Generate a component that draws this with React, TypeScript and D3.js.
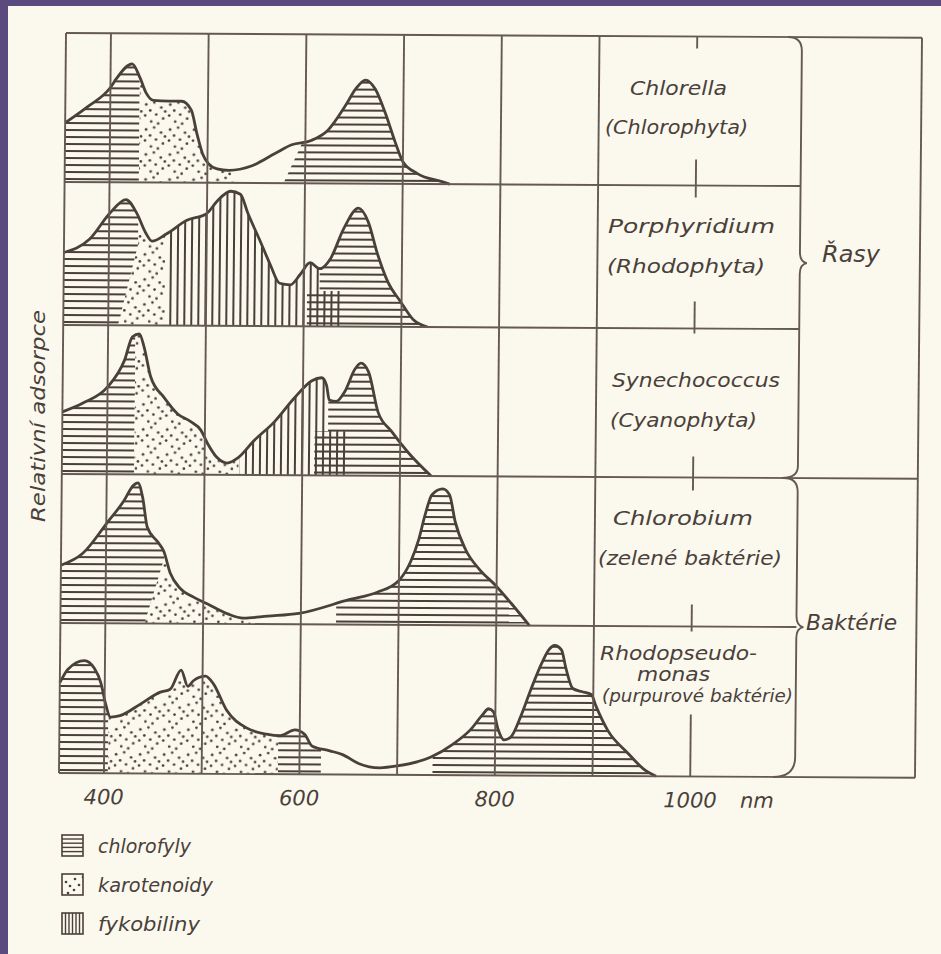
import * as d3 from "d3"
import React from "react"

const W = 941
const H = 954

type Pt = [number, number]
type Region = { kind: "chl" | "car" | "phy"; poly: Pt[] }

// absorption curves: [wavelength nm, relative absorption 0..1 of the row]
const chlorellaCurve: Pt[] = [
  [354, 0.4], [377, 0.51], [400, 0.64], [406, 0.7], [422, 0.8], [430, 0.71], [437, 0.6],
  [444, 0.555], [460, 0.55], [473, 0.55], [483, 0.49], [489, 0.33], [495, 0.195], [501, 0.13],
  [510, 0.095], [522, 0.085], [545, 0.115], [569, 0.2], [586, 0.26], [606, 0.29], [623, 0.36],
  [641, 0.53], [651, 0.64], [661, 0.7], [671, 0.64], [682, 0.47], [692, 0.28], [700, 0.15],
  [715, 0.07], [741, 0.015], [748, 0],
]
const porphyridiumCurve: Pt[] = [
  [354, 0.49], [380, 0.58], [401, 0.76], [417, 0.85], [428, 0.76], [438, 0.62], [444, 0.57],
  [459, 0.62], [479, 0.71], [500, 0.76], [510, 0.84], [524, 0.91], [534, 0.89], [542, 0.76],
  [555, 0.57], [565, 0.42], [575, 0.29], [586, 0.28], [596, 0.35], [606, 0.43], [616, 0.39],
  [627, 0.46], [640, 0.66], [655, 0.8], [665, 0.71], [675, 0.49], [686, 0.3], [699, 0.17],
  [712, 0.05], [727, 0],
]
const synechococcusCurve: Pt[] = [
  [354, 0.42], [375, 0.48], [400, 0.59], [417, 0.77], [425, 0.93], [432, 0.95], [437, 0.86],
  [444, 0.66], [458, 0.52], [472, 0.41], [485, 0.36], [496, 0.3], [503, 0.21], [513, 0.115],
  [523, 0.08], [534, 0.115], [550, 0.23], [571, 0.36], [591, 0.52], [609, 0.64], [619, 0.66],
  [624, 0.61], [627, 0.51], [634, 0.5], [643, 0.57], [653, 0.72], [659, 0.76], [667, 0.7],
  [677, 0.43], [691, 0.3], [708, 0.16], [732, 0],
]
const chlorobiumCurve: Pt[] = [
  [354, 0.39], [376, 0.47], [401, 0.68], [418, 0.83], [427, 0.93], [432, 0.95], [437, 0.85],
  [442, 0.65], [453, 0.55], [459, 0.49], [466, 0.34], [476, 0.24], [490, 0.18], [504, 0.135],
  [525, 0.068], [541, 0.04], [566, 0.054], [598, 0.074], [650, 0.17], [678, 0.22], [700, 0.3],
  [712, 0.43], [720, 0.58], [726, 0.74], [733, 0.88], [744, 0.92], [751, 0.88], [757, 0.7],
  [768, 0.51], [782, 0.38], [799, 0.27], [817, 0.135], [834, 0],
]
const rhodopseudomonasCurve: Pt[] = [
  [354, 0.61], [362, 0.7], [379, 0.76], [389, 0.71], [396, 0.61], [401, 0.47], [406, 0.38],
  [416, 0.39], [437, 0.47], [457, 0.55], [467, 0.57], [478, 0.7], [485, 0.59], [491, 0.63],
  [503, 0.66], [511, 0.61], [525, 0.43], [546, 0.31], [566, 0.27], [580, 0.26], [595, 0.3],
  [605, 0.27], [613, 0.19], [631, 0.16], [644, 0.135], [661, 0.074], [682, 0.047], [700, 0.06],
  [734, 0.12], [757, 0.21], [775, 0.31], [787, 0.41], [793, 0.45], [798, 0.43], [803, 0.31],
  [809, 0.24], [816, 0.26], [826, 0.4], [836, 0.58], [847, 0.76], [854, 0.85], [860, 0.88],
  [867, 0.85], [872, 0.72], [879, 0.59], [888, 0.57], [898, 0.55], [903, 0.47], [915, 0.31],
  [936, 0.155], [952, 0.05], [965, 0],
]

// pigment zones under each curve (chl = chlorofyly, car = karotenoidy, phy = fykobiliny)
const chlorellaRegions: Region[] = [
  { kind: "chl", poly: [[354, 0], [354, 1], [430, 1], [430, 0]] },
  { kind: "car", poly: [[430, 0], [430, 1], [530, 1], [530, 0]] },
  { kind: "chl", poly: [[578, 0], [600, 0.32], [600, 1], [800, 1], [800, 0]] },
]
const porphyridiumRegions: Region[] = [
  { kind: "chl", poly: [[354, 0], [354, 1], [430, 1], [430, 0.55], [410, 0]] },
  { kind: "car", poly: [[410, 0], [430, 0.55], [430, 1], [458, 1], [458, 0]] },
  { kind: "phy", poly: [[458, 0], [458, 1], [616, 1], [616, 0.24], [638, 0.24], [638, 0]] },
  { kind: "chl", poly: [[603, 0], [603, 0.24], [616, 0.24], [616, 1], [800, 1], [800, 0]] },
]
const synechococcusRegions: Region[] = [
  { kind: "chl", poly: [[354, 0], [354, 1], [428, 1], [428, 0]] },
  { kind: "car", poly: [[428, 0], [428, 1], [535, 1], [535, 0]] },
  { kind: "phy", poly: [[536, 0], [536, 1], [626, 1], [626, 0.3], [647, 0.3], [647, 0]] },
  { kind: "chl", poly: [[612, 0], [612, 0.3], [626, 0.3], [626, 1], [800, 1], [800, 0]] },
]
const chlorobiumRegions: Region[] = [
  { kind: "chl", poly: [[354, 0], [354, 1], [460, 1], [460, 0.45], [440, 0]] },
  { kind: "car", poly: [[440, 0], [460, 0.45], [460, 1], [550, 1], [550, 0]] },
  { kind: "chl", poly: [[636, 0], [636, 1], [900, 1], [900, 0]] },
]
const rhodopseudomonasRegions: Region[] = [
  { kind: "chl", poly: [[354, 0], [354, 1], [404, 1], [404, 0]] },
  { kind: "car", poly: [[404, 0], [404, 1], [578, 1], [578, 0]] },
  { kind: "chl", poly: [[578, 0], [578, 1], [622, 1], [622, 0]] },
  { kind: "chl", poly: [[736, 0], [736, 1], [1000, 1], [1000, 0]] },
]

const speciesNames = [
  ["Chlorella", "(Chlorophyta)"],
  ["Porphyridium", "(Rhodophyta)"],
  ["Synechococcus", "(Cyanophyta)"],
  ["Chlorobium", "(zelené baktérie)"],
  ["Rhodopseudo-", "monas", "(purpurové baktérie)"],
]
const groupNames = ["Řasy", "Baktérie"]
const gridNm = [400, 500, 600, 700, 800, 900]
const tickNm = [400, 600, 800, 1000]
const legendNames = ["chlorofyly", "karotenoidy", "fykobiliny"]

const curves = [chlorellaCurve, porphyridiumCurve, synechococcusCurve, chlorobiumCurve, rhodopseudomonasCurve]
const regions = [chlorellaRegions, porphyridiumRegions, synechococcusRegions, chlorobiumRegions, rhodopseudomonasRegions]

// layout
const rowLines = [33, 182, 325, 474, 623, 773]
const ROW_H = 148
const LEFT = 66
const RIGHT = 922
const BRACE_X = 802
const INK = "#4a403a"
const LINE = "#645a53"
const FONT = "'DejaVu Sans', sans-serif"
const stub1000 = [[33, 45], [156, 194], [298, 330], [453, 487], [601, 628], [711, 773]]
// species label layout: [x, baseline, width, size]
const labelPos = [
  [[630, 95, 97, 20], [605, 134, 143, 20]],
  [[608, 233, 167, 20], [607, 273, 158, 20]],
  [[612, 387, 168, 20], [610, 427, 147, 20]],
  [[613, 525, 140, 20], [598, 565, 184, 20]],
  [[600, 660, 157, 19], [637, 681, 73, 19], [602, 702, 191, 17]],
]
const skew = `translate(${LEFT},33) matrix(1,0.0055,-0.0095,1,0,0) translate(${-LEFT},-33)`

const dotSpots = [
  [3, 4], [11, 2], [18, 7], [7, 10], [2, 15], [13, 14], [20, 18], [8, 21], [15, 23], [22, 11],
]

const App = () => {
  const x = d3.scaleLinear().domain([354, 1230]).range([LEFT, RIGHT])
  const yFor = (i: number) =>
    d3.scaleLinear().domain([0, 1]).range([rowLines[i + 1], rowLines[i + 1] - ROW_H])

  const rows = curves.map((curve, i) => {
    const y = yFor(i)
    const area = d3
      .area<Pt>()
      .x((d) => x(d[0]))
      .y0(y(0))
      .y1((d) => y(d[1]))
      .curve(d3.curveMonotoneX)
    const line = d3
      .line<Pt>()
      .x((d) => x(d[0]))
      .y((d) => y(d[1]))
      .curve(d3.curveMonotoneX)
    const poly = d3
      .line<Pt>()
      .x((d) => x(d[0]))
      .y((d) => y(d[1]))
    const top = rowLines[i]
    const base = rowLines[i + 1]
    const hLines = d3.range(base - 3, top, -7)
    return (
      <g key={i}>
        <clipPath id={`area${i}`}>
          <path d={area(curve) || ""} />
        </clipPath>
        {regions[i].map((r, j) => {
          const [n0, n1] = d3.extent(r.poly, (d) => d[0]) as [number, number]
          return (
            <g key={j} clipPath={`url(#area${i})`}>
              <clipPath id={`reg${i}_${j}`}>
                <path d={(poly(r.poly) || "") + "Z"} />
              </clipPath>
              <g clipPath={`url(#reg${i}_${j})`}>
                {r.kind === "chl" &&
                  hLines.map((yy) => (
                    <line key={yy} x1={x(n0)} x2={x(n1)} y1={yy} y2={yy} stroke={INK} strokeWidth={2} />
                  ))}
                {r.kind === "phy" &&
                  d3.range(LEFT + 2, RIGHT, 7).filter((xx) => xx > x(n0) - 8 && xx < x(n1) + 8).map((xx) => (
                    <line key={xx} x1={xx} x2={xx} y1={top} y2={base} stroke={INK} strokeWidth={2} />
                  ))}
                {r.kind === "car" && (
                  <rect x={x(n0)} y={top} width={x(n1) - x(n0)} height={base - top} fill="url(#dots)" />
                )}
              </g>
            </g>
          )
        })}
        <path d={line(curve) || ""} fill="none" stroke={INK} strokeWidth={2.8} strokeLinejoin="round" />
      </g>
    )
  })

  const textStyle = { fontFamily: FONT, fontStyle: "italic" as const, fill: INK }

  return (
    <>
      <style>{`body{margin:0} svg{display:block}`}</style>
      <svg width={W} height={H} viewBox={`0 0 ${W} ${H}`}>
        <defs>
          <pattern id="dots" width={24} height={25} patternUnits="userSpaceOnUse">
            {dotSpots.map(([dx, dy], k) => (
              <circle key={k} cx={dx} cy={dy} r={1.35} fill={INK} />
            ))}
          </pattern>
        </defs>
        <rect width={W} height={H} fill="#fbf8ee" />
        <rect width={W} height={6} fill="#5b4a7e" />
        <rect width={8} height={H} fill="#5b4a7e" />

        <g transform={skew}>
          {rows}
          {/* grid */}
          <g stroke={LINE} strokeWidth={1.9} fill="none">
            {gridNm.map((n) => (
              <line key={n} x1={x(n)} x2={x(n)} y1={rowLines[0]} y2={rowLines[5]} />
            ))}
            {stub1000.map(([a, b], k) => (
              <line key={k} x1={x(1000)} x2={x(1000)} y1={a} y2={b} />
            ))}
            <line x1={LEFT} x2={LEFT} y1={rowLines[0]} y2={rowLines[5]} />
            <line x1={RIGHT} x2={RIGHT} y1={rowLines[0]} y2={rowLines[5]} />
            <line x1={LEFT} x2={RIGHT} y1={rowLines[0]} y2={rowLines[0]} />
            <line x1={LEFT} x2={RIGHT} y1={rowLines[5]} y2={rowLines[5]} />
            <line x1={LEFT} x2={RIGHT} y1={rowLines[3]} y2={rowLines[3]} />
            {[1, 2, 4].map((k) => (
              <line key={k} x1={LEFT} x2={BRACE_X} y1={rowLines[k]} y2={rowLines[k]} />
            ))}
            <path
              d={`M${BRACE_X - 14},${rowLines[0]} Q${BRACE_X},${rowLines[0]} ${BRACE_X},${rowLines[0] + 14}
                 L${BRACE_X},${248} Q${BRACE_X},258 ${BRACE_X + 7},259 Q${BRACE_X},260 ${BRACE_X},270
                 L${BRACE_X},${rowLines[3] - 12} Q${BRACE_X},${rowLines[3]} ${BRACE_X - 16},${rowLines[3]}`}
            />
            <path
              d={`M${BRACE_X - 14},${rowLines[3]} Q${BRACE_X},${rowLines[3]} ${BRACE_X},${rowLines[3] + 14}
                 L${BRACE_X},${rowLines[4] - 11} Q${BRACE_X},${rowLines[4] - 1} ${BRACE_X + 7},${rowLines[4]}
                 Q${BRACE_X},${rowLines[4] + 1} ${BRACE_X},${rowLines[4] + 11}
                 L${BRACE_X},${rowLines[5] - 20} Q${BRACE_X},${rowLines[5]} ${BRACE_X - 22},${rowLines[5]}`}
            />
          </g>
          {/* x tick labels */}
          <g {...textStyle} fontSize={21} textAnchor="middle">
            {tickNm.map((n) => (
              <text key={n} x={x(n)} y={rowLines[5] + 31}>
                {n}
              </text>
            ))}
            <text x={x(1000) + 67} y={rowLines[5] + 31}>
              nm
            </text>
          </g>
        </g>

        {/* species labels */}
        <g {...textStyle}>
          {speciesNames.map((lines, i) =>
            lines.map((t, j) => {
              const [lx, ly, lw, fs] = labelPos[i][j]
              return (
                <text key={`${i}-${j}`} x={lx} y={ly} fontSize={fs} textLength={lw} lengthAdjust="spacingAndGlyphs">
                  {t}
                </text>
              )
            })
          )}
          <text x={822} y={262} fontSize={23} textLength={58} lengthAdjust="spacingAndGlyphs">
            {groupNames[0]}
          </text>
          <text x={806} y={630} fontSize={22} textLength={91} lengthAdjust="spacingAndGlyphs">
            {groupNames[1]}
          </text>
          <text
            transform="translate(45,416) rotate(-90)"
            fontSize={19}
            textAnchor="middle"
            textLength={212}
            lengthAdjust="spacingAndGlyphs"
          >
            Relativní adsorpce
          </text>
        </g>

        {/* legend */}
        <g>
          {legendNames.map((name, k) => {
            const ty = 835 + k * 39
            const bx = 62
            return (
              <g key={name}>
                <rect x={bx} y={ty} width={21} height={21} fill={k === 1 ? "url(#dots)" : "none"} stroke={INK} strokeWidth={1.6} />
                {k === 0 &&
                  d3.range(ty + 4, ty + 20, 4.2).map((yy) => (
                    <line key={yy} x1={bx} x2={bx + 21} y1={yy} y2={yy} stroke={INK} strokeWidth={1.4} />
                  ))}
                {k === 2 &&
                  d3.range(bx + 3.5, bx + 20, 3.5).map((xx) => (
                    <line key={xx} x1={xx} x2={xx} y1={ty} y2={ty + 21} stroke={INK} strokeWidth={1.4} />
                  ))}
                <text x={98} y={ty + 18} fontSize={19} {...textStyle} textLength={[93, 115, 102][k]} lengthAdjust="spacingAndGlyphs">
                  {name}
                </text>
              </g>
            )
          })}
        </g>
      </svg>
    </>
  )
}

export default App
